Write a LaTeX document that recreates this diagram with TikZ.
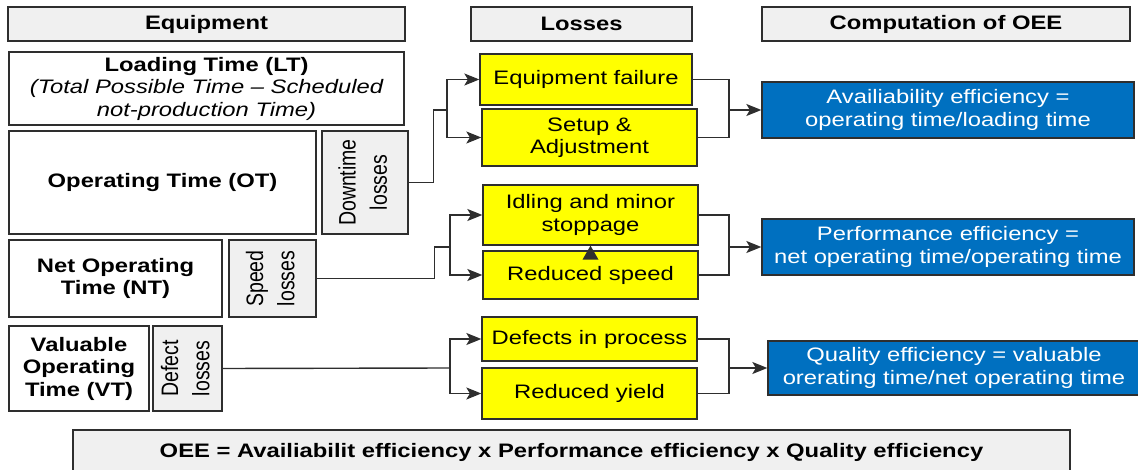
\documentclass[tikz,border=0pt]{standalone}
\usepackage{fontspec}
\setmainfont{Liberation Sans}[FakeStretch=1.22]
\newfontfamily\plainsans{Liberation Sans}
\usetikzlibrary{arrows.meta}
\definecolor{boxgray}{HTML}{F0F0F0}
\definecolor{lossyellow}{HTML}{FFFF00}
\definecolor{oeeblue}{HTML}{0070C0}
\definecolor{edge}{HTML}{2E2E2E}
% vertical two-line label for the narrow loss boxes
\newcommand{\sidelabel}[2]{\rotatebox{90}{\scalebox{1}[1.22]{\plainsans\fontsize{19.5}{25.5}\selectfont
  \begin{tabular}{@{}c@{}}#1\\#2\end{tabular}}}}
\begin{document}
\begin{tikzpicture}[x=1pt, y=-1pt,
  font=\fontsize{19.5}{22.5}\selectfont,
  basebox/.style={draw=edge, line width=1.3pt, inner sep=0pt, align=center},
  sz/.style 2 args={minimum width=#1pt, minimum height=#2pt},
  wbox/.style={basebox, fill=white},
  gbox/.style={basebox, fill=boxgray},
  ybox/.style={basebox, fill=lossyellow},
  bbox/.style={basebox, fill=oeeblue, text=white},
  conn/.style={draw=edge, line width=1.4pt},
  arr/.style={conn, -{Stealth[length=15pt,width=12pt,inset=3.5pt]}}]
\useasboundingbox (0,0) rectangle (1138,470);

% column headers
\node[gbox, sz={397}{34}] (hEq) at (206.5,24) {\bfseries Equipment};
\node[gbox, sz={221}{34}] (hLo) at (581.5,24) {\bfseries Losses};
\node[gbox, sz={368}{34}] (hCo) at (946,24) {\bfseries Computation of OEE};

% equipment time blocks
\node[wbox, sz={395}{73}] (lt) at (206.5,88.5)
  {\bfseries Loading Time (LT)\\\itshape (Total Possible Time – Scheduled\\\itshape not-production Time)};
\node[wbox, sz={307}{103}] (ot) at (162.5,182.5) {\bfseries Operating Time (OT)};
\node[gbox, sz={86}{103}] (dt) at (365,182.5) {\sidelabel{Downtime}{losses}};
\node[wbox, sz={213}{77}] (nt) at (115.5,278.5) {\bfseries Net Operating\\\bfseries Time (NT)};
\node[gbox, sz={87}{77}] (sp) at (272.5,278.5) {\sidelabel{Speed}{losses}};
\node[wbox, sz={140}{85}] (vt) at (79,368.5) {\bfseries Valuable\\\bfseries Operating\\\bfseries Time (VT)};
\node[gbox, sz={69}{85}] (df) at (187.5,368.5) {\sidelabel{Defect}{losses}};

% individual losses
\node[ybox, sz={212}{51}] (ef) at (586,79.5) {\raisebox{-1.5pt}{Equipment failure}};
\node[ybox, sz={215}{57}] (su) at (589.5,137.5) {Setup \&\\Adjustment};
\node[ybox, sz={215}{60}] (id) at (590.5,215) {Idling and minor\\stoppage};
\node[ybox, sz={215}{48}] (rs) at (590.5,275) {Reduced speed};
\node[ybox, sz={215}{44}] (de) at (589.5,339) {Defects in process};
\node[ybox, sz={215}{51}] (ry) at (589.5,393.5) {Reduced yield};

% efficiency formulas
\node[bbox, sz={372}{56}] (av) at (948,110) {Availiability efficiency =\\operating time/loading time};
\node[bbox, sz={372}{56}] (pf) at (948,247) {Performance efficiency =\\net operating time/operating time};
\node[bbox, sz={372}{54}] (ql) at (954,368) {Quality efficiency = valuable\\orerating time/net operating time};

% overall formula
\node[gbox, sz={997}{46}] (oee) at (571.5,453)
  {\raisebox{5pt}{\bfseries OEE = Availiabilit efficiency x Performance efficiency x Quality efficiency}};

% junction points
\coordinate (j1) at (447,110);
\coordinate (j2) at (450,247);
\coordinate (j3) at (450,368);
\coordinate (k1) at (729,110);
\coordinate (k2) at (729,247);
\coordinate (k3) at (729,368);

% losses -> loss categories
\draw[conn] (dt.east) -- ++(25,0) |- (j1);
\draw[arr] (j1) |- (ef.west);
\draw[arr] (j1) |- (su.west);
\draw[conn] (sp.east) -- ++(118,0) |- (j2);
\draw[arr] (j2) |- (id.west);
\draw[arr] (j2) |- (rs.west);
\draw[conn] (df.east) -- (j3);
\draw[arr] (j3) |- (de.west);
\draw[arr] (j3) |- (ry.west);
% reduced speed feeds idling: arrowhead between the two boxes
\fill[edge] (id.south) -- ++(-8,14) -- ++(16,0) -- cycle;

% loss categories -> efficiencies
\draw[conn] (ef.east) -| (k1) |- (su.east);
\draw[arr] (k1) -- (av.west);
\draw[conn] (id.east) -| (k2) |- (rs.east);
\draw[arr] (k2) -- (pf.west);
\draw[conn] (de.east) -| (k3) |- (ry.east);
\draw[arr] (k3) -- (ql.west);
\end{tikzpicture}
\end{document}
